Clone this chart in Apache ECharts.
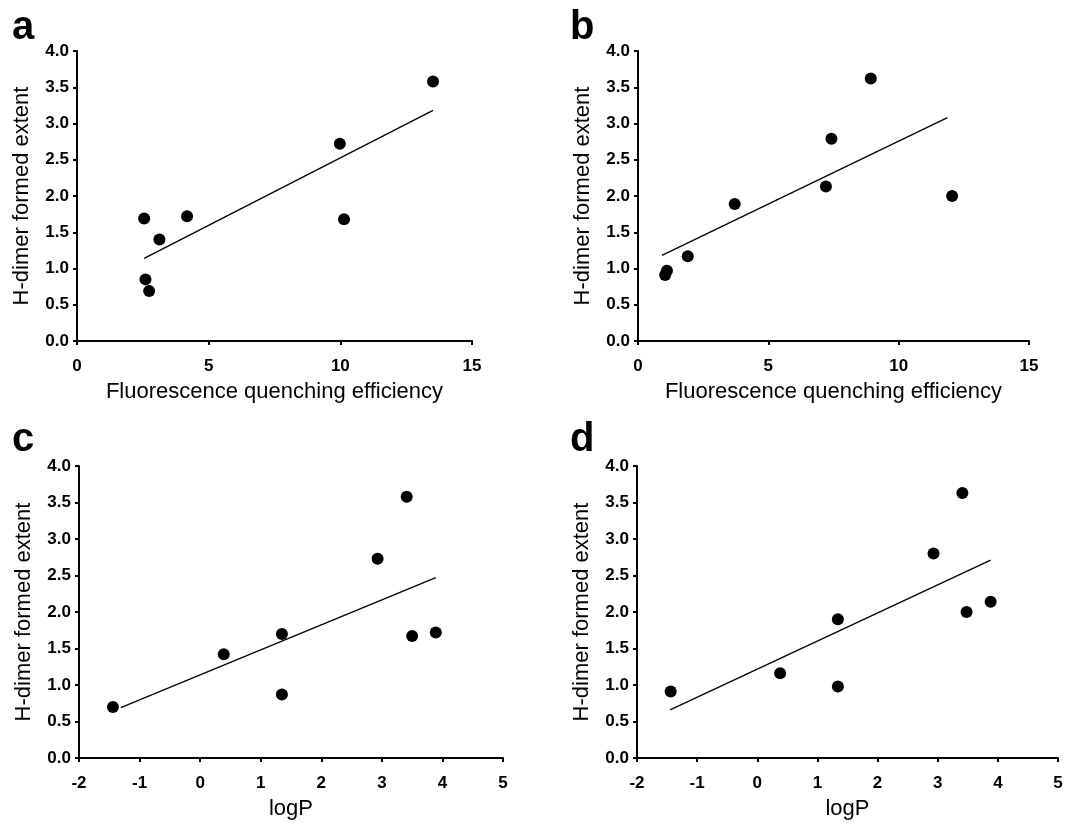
<!DOCTYPE html>
<html>
<head>
<meta charset="utf-8">
<script src="https://cdn.jsdelivr.net/npm/echarts@6/dist/echarts.min.js"></script>
<style>
  html, body { margin: 0; padding: 0; background: #fff; }
  #chart { width: 1085px; height: 824px; }
</style>
</head>
<body>
<div id="chart"></div>
<script>
  // values
  const aX = [2.55, 2.60, 2.74, 3.13, 4.18, 9.98, 10.14, 13.52];
  const aY = [1.69, 0.85, 0.69, 1.40, 1.72, 2.72, 1.68, 3.58];
  const aFit = [[2.55, 1.14], [13.52, 3.18]];

  const bX = [1.04, 1.11, 1.91, 3.71, 7.21, 7.42, 8.93, 12.05];
  const bY = [0.91, 0.97, 1.17, 1.89, 2.13, 2.79, 3.62, 2.00];
  const bFit = [[0.92, 1.18], [11.87, 3.08]];

  const cX = [-1.44, 0.39, 1.35, 1.35, 2.93, 3.41, 3.50, 3.89];
  const cY = [0.70, 1.42, 1.70, 0.87, 2.73, 3.58, 1.67, 1.72];
  const cFit = [[-1.31, 0.69], [3.89, 2.47]];

  const dX = [-1.44, 0.38, 1.34, 1.34, 2.93, 3.41, 3.48, 3.88];
  const dY = [0.91, 1.16, 1.90, 0.98, 2.80, 3.63, 2.00, 2.14];
  const dFit = [[-1.45, 0.66], [3.88, 2.71]];

  const panelLetters = ['a', 'b', 'c', 'd'];
  const xTitles = ['Fluorescence quenching efficiency', 'Fluorescence quenching efficiency', 'logP', 'logP'];
  const yTitle = 'H-dimer formed extent';

  const FONT = 'Liberation Sans, Arial, sans-serif';

  const grids = [
    {left: 77, top: 51, width: 395, height: 290},
    {left: 638, top: 51, width: 391, height: 290},
    {left: 79, top: 466, width: 424, height: 292},
    {left: 637, top: 466, width: 421, height: 292}
  ];
  const xRanges = [[0, 15, 5], [0, 15, 5], [-2, 5, 1], [-2, 5, 1]];
  const xs = [aX, bX, cX, dX];
  const ys = [aY, bY, cY, dY];
  const fits = [aFit, bFit, cFit, dFit];

  const axisTick = {inside: false, length: 4, lineStyle: {color: '#000', width: 2}};

  let xAxis = [], yAxis = [], series = [], graphic = [];
  for (let i = 0; i < 4; i++) {
    xAxis.push({
      type: 'value', gridIndex: i,
      min: xRanges[i][0], max: xRanges[i][1], interval: xRanges[i][2],
      name: xTitles[i], nameLocation: 'middle', nameGap: 40,
      nameTextStyle: {fontFamily: FONT, fontSize: 22, color: '#000'},
      axisLine: {onZero: false, lineStyle: {color: '#000', width: 2}},
      axisTick: axisTick, splitLine: {show: false},
      axisLabel: {fontFamily: FONT, fontSize: 17, fontWeight: 'bold', color: '#000', margin: 17}
    });
    yAxis.push({
      type: 'value', gridIndex: i, min: 0, max: 4, interval: 0.5,
      name: yTitle, nameLocation: 'middle', nameGap: 44,
      nameTextStyle: {fontFamily: FONT, fontSize: 22, color: '#000'},
      axisLine: {onZero: false, lineStyle: {color: '#000', width: 2}},
      axisTick: axisTick, splitLine: {show: false},
      axisLabel: {fontFamily: FONT, fontSize: 17, fontWeight: 'bold', color: '#000', margin: 8,
        formatter: v => v.toFixed(1)}
    });
    series.push({
      type: 'line', xAxisIndex: i, yAxisIndex: i, data: fits[i],
      symbol: 'none', silent: true, z: 1,
      lineStyle: {color: '#000', width: 1.3}
    });
    series.push({
      type: 'scatter', xAxisIndex: i, yAxisIndex: i,
      data: xs[i].map((x, k) => [x, ys[i][k]]),
      symbolSize: 12, z: 3,
      itemStyle: {color: '#000', opacity: 1}
    });
  }

  const letterPos = [[12, 8], [570, 8], [12, 420], [570, 420]];
  for (let i = 0; i < 4; i++) {
    graphic.push({
      type: 'text', left: letterPos[i][0], top: letterPos[i][1],
      style: {text: panelLetters[i], font: 'bold 40px ' + FONT, fill: '#000'}
    });
  }

  const myChart = echarts.init(document.getElementById('chart'));
  myChart.setOption({
    animation: false,
    backgroundColor: '#fff',
    grid: grids,
    xAxis: xAxis,
    yAxis: yAxis,
    series: series,
    graphic: graphic
  });
</script>
</body>
</html>
